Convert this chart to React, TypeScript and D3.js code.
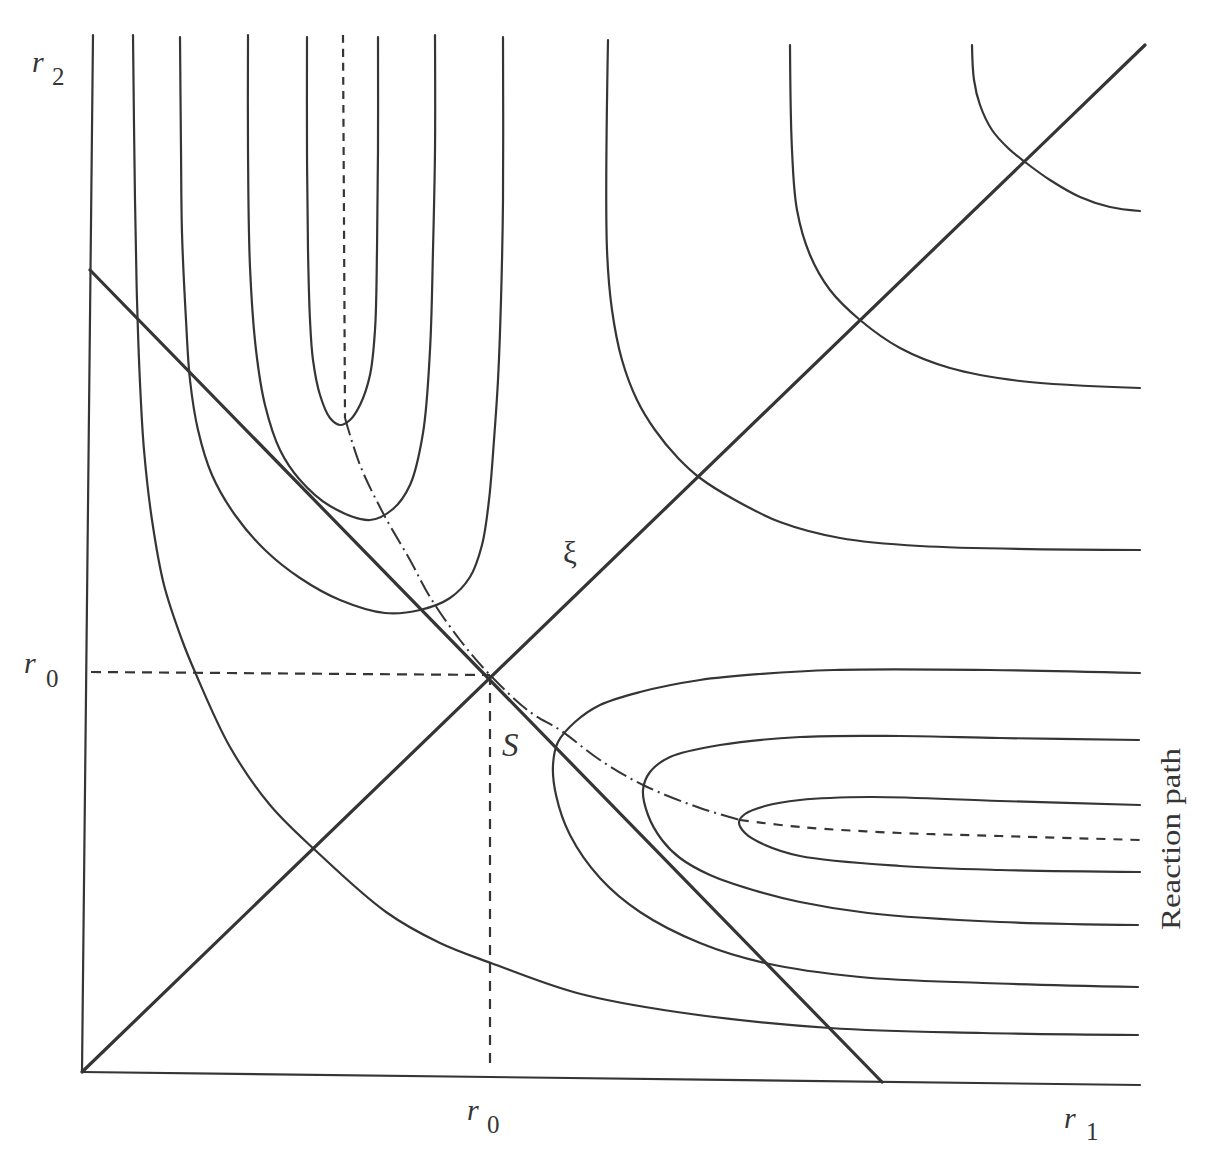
import React from 'react';
import * as d3 from 'd3';

type Pt = [number, number];

// Data coordinates (r1, r2) in arbitrary length units
const xDomain: Pt = [0, 105.8];
const yDomain: Pt = [0, 103.7];

const yAxisLine: Pt[] = [[0, 0], [1.1, 103.7]];
const xAxisLine: Pt[] = [[0, 0], [105.8, -1.3]];
const xiLine: Pt[] = [[0, 0], [106.3, 102.7]];
const saddleLine: Pt[] = [[0.8, 80.2], [80, -1.0]];
const r0Horizontal: Pt[] = [[0.9, 40.0], [40.8, 39.7]];
const r0Vertical: Pt[] = [[40.8, 39.7], [40.8, 0.4]];
const saddlePoint: Pt = [40.8, 39.7];

const pathReactant: Pt[] = [[26.1, 103.7], [26.2, 85], [26.3, 65.4]];
const pathSaddle: Pt[] = [
  [26.3, 65.4], [27.8, 60.7], [30.1, 55.9], [32.8, 51.2], [34.8, 47.5], [37.8, 43.2],
  [40.8, 39.7], [44.8, 36.0], [47.8, 34.2], [51.8, 31.2], [56.1, 28.7], [61.8, 26.4], [65.8, 25.2],
];
const pathProduct: Pt[] = [[65.8, 25.2], [71.8, 24.5], [81.8, 23.9], [91.8, 23.6], [105.8, 23.2]];

const contourC1: Pt[] = [
  [5.1, 103.7], [5.3, 87.2], [5.5, 77.2], [5.8, 68.9], [6.2, 62.2], [7.0, 55.2], [8.2, 48.7],
  [10.0, 43.2], [11.3, 40.0], [14.8, 32.5], [18.8, 26.7], [23.3, 22.2], [30.4, 16.0], [35.8, 12.9],
  [40.9, 10.9], [49.5, 7.9], [59.5, 6.0], [74.8, 4.4], [90.1, 3.9], [105.6, 3.7],
];
const contourU1: Pt[] = [
  [22.5, 103.5], [22.5, 92.2], [22.6, 82.2], [22.8, 75.2], [23.1, 71.2], [23.8, 67.7], [24.8, 65.4],
  [25.8, 64.7], [26.8, 65.2], [27.8, 66.7], [28.8, 69.7], [29.3, 74.2], [29.5, 82.2], [29.6, 92.2], [29.6, 103.5],
];
const contourU2: Pt[] = [
  [16.6, 103.7], [16.6, 92.2], [16.8, 80.5], [17.4, 72.2], [18.3, 66.7], [19.8, 62.2], [21.8, 59.2],
  [24.8, 56.6], [28.8, 55.2], [31.1, 56.3], [32.8, 58.7], [34.1, 63.9], [34.8, 72.2], [35.1, 82.2],
  [35.3, 92.2], [35.3, 103.7],
];
const contourU3: Pt[] = [
  [9.8, 103.5], [9.9, 92.2], [10.0, 83.9], [10.4, 75.2], [10.8, 69.2], [11.6, 64.2], [13.0, 59.7],
  [15.3, 55.7], [18.3, 52.2], [21.8, 49.4], [25.8, 47.2], [30.3, 45.9], [33.8, 46.2], [36.8, 47.4],
  [38.8, 49.5], [40.0, 52.7], [40.7, 57.2], [41.2, 63.2], [41.6, 69.2], [41.9, 77.2], [42.1, 87.2], [42.1, 103.5],
];
const contourL1: Pt[] = [
  [105.8, 26.7], [91.8, 27.1], [78.8, 27.5], [71.8, 27.2], [68.3, 26.6], [66.3, 25.8], [65.7, 25.0],
  [66.3, 23.9], [68.3, 22.7], [71.8, 21.6], [81.8, 20.6], [91.8, 20.2], [105.8, 20.0],
];
const contourL2: Pt[] = [
  [105.7, 33.2], [91.8, 33.4], [81.8, 33.6], [71.8, 33.5], [63.8, 32.7], [58.8, 31.5], [56.8, 30.0],
  [56.1, 28.2], [56.6, 25.7], [58.0, 23.2], [59.8, 21.4], [62.8, 19.7], [67.1, 18.2], [71.8, 17.0],
  [78.6, 15.9], [91.8, 15.0], [105.6, 14.7],
];
const contourL3: Pt[] = [
  [105.8, 39.9], [90.8, 40.2], [75.2, 40.2], [67.8, 39.8], [61.8, 39.2], [55.8, 38.0], [51.8, 36.7],
  [49.3, 35.0], [47.6, 33.0], [47.1, 30.7], [47.4, 27.7], [48.8, 23.7], [51.8, 19.4], [55.8, 16.0],
  [61.8, 12.9], [68.3, 10.9], [77.8, 9.5], [90.1, 8.9], [105.6, 8.5],
];
const contourH1: Pt[] = [
  [52.6, 103.2], [52.5, 82.2], [53.0, 76.2], [54.0, 71.2], [55.5, 67.2], [57.3, 64.2], [59.6, 61.4],
  [61.8, 59.4], [65.3, 57.2], [69.8, 55.0], [75.8, 53.4], [83.8, 52.6], [105.8, 52.2],
];
const contourH2: Pt[] = [
  [70.8, 102.7], [71.0, 92.2], [71.5, 86.2], [72.8, 81.7], [74.8, 78.2], [77.8, 75.2], [81.8, 72.4],
  [86.8, 70.4], [93.8, 69.1], [105.8, 68.4],
];
const contourH3: Pt[] = [
  [89.0, 102.7], [89.2, 99.2], [89.8, 96.7], [91.0, 94.2], [92.6, 92.4], [94.3, 91.0], [96.8, 89.2],
  [99.8, 87.5], [102.8, 86.5], [105.8, 86.1],
];

const contours: Pt[][] = [
  contourC1, contourU1, contourU2, contourU3, contourL1, contourL2, contourL3, contourH1, contourH2, contourH3,
];

const INK = '#353535';
const FONT = '"Liberation Serif", "DejaVu Serif", serif';

export default function App() {
  const x = d3.scaleLinear().domain(xDomain).range([82, 1140]);
  const y = d3.scaleLinear().domain(yDomain).range([1072, 35]);

  const smooth = d3.line<Pt>().x(d => x(d[0])).y(d => y(d[1])).curve(d3.curveCatmullRom.alpha(0.5));
  const straight = d3.line<Pt>().x(d => x(d[0])).y(d => y(d[1]));

  const sx = x(saddlePoint[0]);
  const sy = y(saddlePoint[1]);
  const xEnd = x(xDomain[1]);

  return (
    <svg
      width={1212}
      height={1152}
      viewBox="0 0 1212 1152"
      style={{ position: 'absolute', left: 0, top: 0, display: 'block', background: '#fff' }}
    >
      <rect x={0} y={0} width={1212} height={1152} fill="#fff" />
      <g fill="none" stroke={INK} strokeLinecap="round">
        {/* axes */}
        <path d={straight(yAxisLine) || ''} strokeWidth={2.2} />
        <path d={straight(xAxisLine) || ''} strokeWidth={2.2} />
        {/* straight diagonals */}
        <path d={straight(xiLine) || ''} strokeWidth={3.2} />
        <path d={straight(saddleLine) || ''} strokeWidth={3.2} />
        {/* r0 guide lines */}
        <path d={straight(r0Horizontal) || ''} strokeWidth={2.2} strokeDasharray="10 7" strokeLinecap="butt" />
        <path d={straight(r0Vertical) || ''} strokeWidth={2.2} strokeDasharray="10 8" strokeLinecap="butt" />
        {/* contours */}
        {contours.map((c, i) => (
          <path key={i} d={smooth(c) || ''} strokeWidth={2.2} />
        ))}
        {/* reaction path */}
        <path d={smooth(pathReactant) || ''} strokeWidth={2.2} strokeDasharray="8 6" strokeLinecap="butt" />
        <path d={smooth(pathSaddle) || ''} strokeWidth={2} strokeDasharray="18 5 2 5" strokeLinecap="butt" />
        <path d={smooth(pathProduct) || ''} strokeWidth={2.2} strokeDasharray="9 8" strokeLinecap="butt" />
      </g>
      <g fill={INK} fontFamily={FONT}>
        <text x={x(0) - 50} y={y(100)} fontSize={30} fontStyle="italic">r</text>
        <text x={x(0) - 30} y={y(100) + 13} fontSize={25}>2</text>

        <text x={x(0) - 58} y={sy - 2} fontSize={30} fontStyle="italic">r</text>
        <text x={x(0) - 36} y={sy + 12} fontSize={25}>0</text>

        <text x={sx - 23} y={y(0) + 48} fontSize={30} fontStyle="italic">r</text>
        <text x={sx - 3} y={y(0) + 61} fontSize={25}>0</text>

        <text x={xEnd - 76} y={y(0) + 56} fontSize={30} fontStyle="italic">r</text>
        <text x={xEnd - 54} y={y(0) + 68} fontSize={25}>1</text>

        <text x={sx + 73} y={sy - 112} fontSize={31}>ξ</text>
        <text x={sx + 12} y={sy + 81} fontSize={33} fontStyle="italic">S</text>

        <text
          transform={`translate(${xEnd + 40}, ${y(23.2) - 1}) rotate(-90)`}
          textAnchor="middle"
          fontSize={27}
          textLength={182}
          lengthAdjust="spacingAndGlyphs"
        >
          Reaction path
        </text>
      </g>
    </svg>
  );
}
